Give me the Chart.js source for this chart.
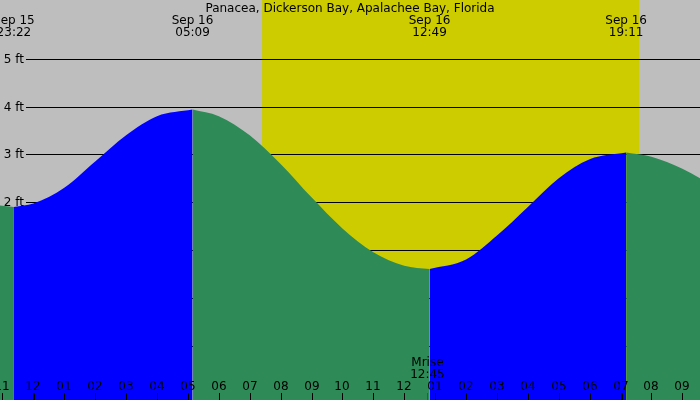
<!DOCTYPE html><html><head><script src="https://cdn.jsdelivr.net/npm/chart.js@4"></script>
<style>html,body{margin:0;padding:0;background:#bebebe}#w{width:700px;height:400px}</style></head><body><div id="w"><canvas id="c"></canvas></div>
<script>
const title="Panacea, Dickerson Bay, Apalachee Bay, Florida";
const fallA=[{x:-1.08,y:1.93},{x:-0.63,y:1.9}];
const riseA=[{x:-0.63,y:1.9},{x:0,y:1.97},{x:1,y:2.3},{x:2,y:2.85},{x:3,y:3.4},{x:4,y:3.8},{x:5.15,y:3.94}];
const fallB=[{x:5.15,y:3.94},{x:6,y:3.8},{x:7,y:3.4},{x:8,y:2.8},{x:9,y:2.1},{x:10,y:1.45},{x:11,y:0.95},{x:12,y:0.67},{x:12.82,y:0.6}];
const riseB=[{x:12.82,y:0.6},{x:14,y:0.8},{x:15,y:1.3},{x:16,y:1.9},{x:17,y:2.5},{x:18,y:2.9},{x:19.18,y:3.04}];
const fallC=[{x:19.18,y:3.04},{x:20,y:2.95},{x:21,y:2.7},{x:21.57,y:2.5}];
const ftTicks=[-1,0,1,2,3,4,5];
const hourLabels=["11","12","01","02","03","04","05","06","07","08","09","10","11","12","01","02","03","04","05","06","07","08","09"];
const events=[{t:-0.63,d:"Sep 15",h:"23:22"},{t:5.15,d:"Sep 16",h:"05:09"},{t:12.82,d:"Sep 16",h:"12:49"},{t:19.18,d:"Sep 16",h:"19:11"}];
const daylight=[7.4,19.6];
const moonrise={t:12.75,label:"Mrise",h:"12:45"};
const F="DejaVu Sans";
const ds=(d,c)=>({data:d,backgroundColor:c,borderWidth:0,pointRadius:0,fill:'start',cubicInterpolationMode:'monotone'});
const deco={id:'deco',
beforeDatasetsDraw(ch){const c=ch.ctx,x=ch.scales.x,y=ch.scales.y;
 c.save();c.fillStyle='#cccc00';const a=x.getPixelForValue(daylight[0]),b=x.getPixelForValue(daylight[1]);c.fillRect(a,0,b-a,400);
 c.strokeStyle='#000';c.lineWidth=1;c.fillStyle='#000';c.font='12px '+F;c.textAlign='right';c.textBaseline='middle';
 ftTicks.forEach(v=>{const p=Math.round(y.getPixelForValue(v))+0.5;c.beginPath();c.moveTo(26,p);c.lineTo(700,p);c.stroke();c.fillText(v+' ft',24,p);});
 c.restore();},
afterDatasetsDraw(ch){const c=ch.ctx,x=ch.scales.x;c.save();c.fillStyle='#000';c.font='12px '+F;c.textAlign='center';c.textBaseline='alphabetic';
 c.fillText(title,350,12);
 events.forEach(e=>{const p=x.getPixelForValue(e.t);c.fillText(e.d,p,24);c.fillText(e.h,p,36);});
 hourLabels.forEach((l,i)=>{const p=Math.round(x.getPixelForValue(i-1));c.fillText(l,p,390);c.fillRect(p,393,(i==1||i==20)?2:1,7);});
 const m=x.getPixelForValue(moonrise.t);c.fillText(moonrise.label,m,366);c.fillText(moonrise.h,m,378);c.fillStyle='#f00';c.fillRect(Math.round(m),393,1,7);
 c.restore();}};
new Chart(document.getElementById('c'),{type:'line',data:{datasets:[ds(fallA,'#2e8b57'),ds(riseA,'#0000ff'),ds(fallB,'#2e8b57'),ds(riseB,'#0000ff'),ds(fallC,'#2e8b57')]},
options:{animation:false,responsive:true,maintainAspectRatio:false,layout:{padding:0},plugins:{legend:{display:false},tooltip:{enabled:false}},
scales:{x:{type:'linear',min:-1.08,max:21.57,display:false},y:{min:-2.14,max:6.23,display:false}}},plugins:[deco]});
</script></body></html>
